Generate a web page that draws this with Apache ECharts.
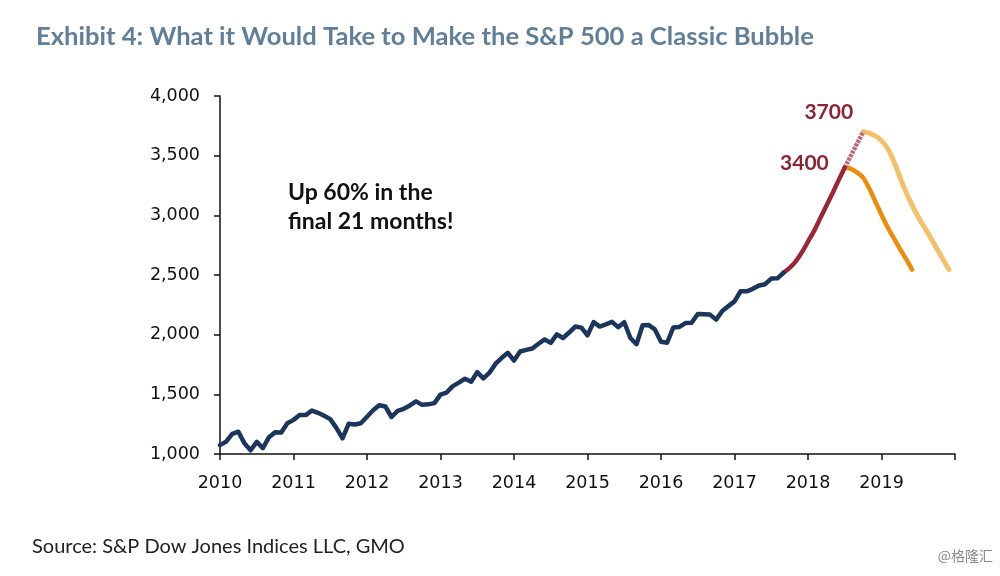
<!DOCTYPE html>
<html>
<head>
<meta charset="utf-8">
<script src="https://cdn.jsdelivr.net/npm/echarts@6/dist/echarts.min.js"></script>
<style>
html,body{margin:0;padding:0;background:#fff;}
#c{width:1000px;height:576px;}
</style>
</head>
<body>
<div id="c"></div>
<script>
// ---- data (monthly, S&P 500 level) ----
const yTicks = [1000, 1500, 2000, 2500, 3000, 3500, 4000];
const xYears = [2010, 2011, 2012, 2013, 2014, 2015, 2016, 2017, 2018, 2019, 2020];

// Actual history: Jan 2010 .. Sep 2017
const actualStart = '2010-01';
const actualValues = [
  1074,1104,1169,1187,1089,1031,1102,1049,1141,1183,1181,1258,
  1286,1327,1326,1364,1345,1321,1292,1219,1131,1253,1247,1258,
  1312,1366,1408,1398,1310,1362,1379,1407,1441,1412,1416,1426,
  1498,1515,1569,1598,1631,1606,1686,1633,1682,1757,1806,1848,
  1783,1859,1872,1884,1924,1960,1931,2003,1972,2018,2068,2059,
  1995,2105,2068,2086,2107,2063,2104,1972,1920,2079,2080,2044,
  1940,1932,2060,2065,2097,2099,2174,2171,2168,2126,2199,2239,
  2279,2364,2363,2384,2412,2423,2470,2472,2519
];
// Bubble run-up: Sep 2017 .. Jul 2018 (to 3400)
const runupStart = '2017-09';
const runupValues = [2519,2560,2615,2690,2780,2870,2975,3080,3185,3295,3400];
// Extended run-up: Jul 2018 .. Oct 2018 (to 3700)
const extStart = '2018-07';
const extValues = [3400,3500,3600,3700];
// Crash from 3400: Jul 2018 .. Jun 2019
const crashAStart = '2018-07';
const crashAValues = [3400,3390,3360,3315,3225,3115,3005,2900,2810,2720,2635,2545];
// Crash from 3700: Oct 2018 .. Dec 2019
const crashBStart = '2018-10';
const crashBValues = [3700,3688,3665,3625,3560,3455,3320,3195,3085,2985,2900,2815,2725,2635,2545];

const peakLabels = {runup: '3400', ext: '3700'};

function toYear(ym, k) {
  const p = ym.split('-');
  return +p[0] + (+p[1] - 1 + k) / 12;
}
function series(start, vals) {
  return vals.map((v, k) => [toYear(start, k), v]);
}

const peakLabelStyle = {
  show: true, fontFamily: 'Lato, "Open Sans", sans-serif', fontWeight: 'bold',
  fontSize: 21, color: '#8c2434', align: 'right', verticalAlign: 'middle', distance: 0
};

const chart = echarts.init(document.getElementById('c'), null, {renderer: 'canvas'});
chart.setOption({
  animation: false,
  backgroundColor: '#ffffff',
  title: {
    text: 'Exhibit 4: What it Would Take to Make the S&P 500 a Classic Bubble',
    left: 31, top: 19,
    textStyle: {fontFamily: 'Lato, "Open Sans", sans-serif', fontWeight: 'bold', fontSize: 25.6, color: '#617f98'}
  },
  grid: {left: 220, right: 45, top: 96, bottom: 122},
  xAxis: {
    type: 'value', min: xYears[0], max: xYears[xYears.length - 1], interval: 1,
    axisLine: {show: true, lineStyle: {color: '#111', width: 1.5}},
    axisTick: {show: true, length: 6, lineStyle: {color: '#111', width: 1.5}},
    splitLine: {show: false},
    axisLabel: {
      margin: 20, fontFamily: '"DejaVu Sans", Verdana, sans-serif', fontSize: 17.5, color: '#111',
      formatter: v => (xYears.indexOf(Math.round(v)) >= 0 && Math.round(v) < 2020) ? String(Math.round(v)) : ''
    }
  },
  yAxis: {
    type: 'value', min: yTicks[0], max: yTicks[yTicks.length - 1], interval: 500,
    axisLine: {show: true, lineStyle: {color: '#111', width: 1.5}},
    axisTick: {show: true, length: 6, lineStyle: {color: '#111', width: 1.5}},
    splitLine: {show: false},
    axisLabel: {
      margin: 20, fontFamily: '"DejaVu Sans", Verdana, sans-serif', fontSize: 17.5, color: '#111',
      formatter: v => v.toLocaleString('en-US')
    }
  },
  series: [
    {
      type: 'line', data: series(crashBStart, crashBValues), showSymbol: false, symbol: 'none', smooth: 0.3,
      lineStyle: {color: '#f5c06a', width: 5, type: [2, 1], cap: 'round'}, z: 2
    },
    {
      type: 'line', data: series(crashAStart, crashAValues), showSymbol: false, symbol: 'none', smooth: 0.3,
      lineStyle: {color: '#ee8c0a', width: 4.5, cap: 'round'}, z: 3
    },
    {
      type: 'line', data: series(extStart, extValues), symbol: 'none', showSymbol: false,
      lineStyle: {color: '#b86a78', width: 4.5, type: [3, 1]}, z: 3,
      endLabel: Object.assign({}, peakLabelStyle, {formatter: peakLabels.ext, offset: [-10, -20]})
    },
    {
      type: 'line', data: series(runupStart, runupValues), symbol: 'none', showSymbol: false, smooth: 0.3,
      lineStyle: {color: '#9b2636', width: 4.5, cap: 'round'}, z: 4,
      endLabel: Object.assign({}, peakLabelStyle, {formatter: peakLabels.runup, offset: [-16, -4]})
    },
    {
      type: 'line', data: series(actualStart, actualValues), symbol: 'none', showSymbol: false,
      lineStyle: {color: '#1b355c', width: 4.5, join: 'round', cap: 'round'}, z: 5
    }
  ],
  graphic: [
    {
      type: 'text', left: 288, top: 178,
      style: {
        text: 'Up 60% in the\nfinal 21 months!', fontFamily: 'Lato, "Open Sans", sans-serif',
        fontWeight: 'bold', fontSize: 23, lineHeight: 29, fill: '#111'
      }
    },
    {
      type: 'text', left: 32, top: 537,
      style: {text: 'Source: S&P Dow Jones Indices LLC, GMO', fontFamily: 'Lato, "Open Sans", sans-serif', fontSize: 20, fill: '#222'}
    },
    {
      type: 'text', right: 7, top: 549,
      style: {text: '@格隆汇', fontFamily: '"Noto Sans CJK SC", sans-serif', fontSize: 14, fill: '#888'}
    }
  ]
});
</script>
</body>
</html>
